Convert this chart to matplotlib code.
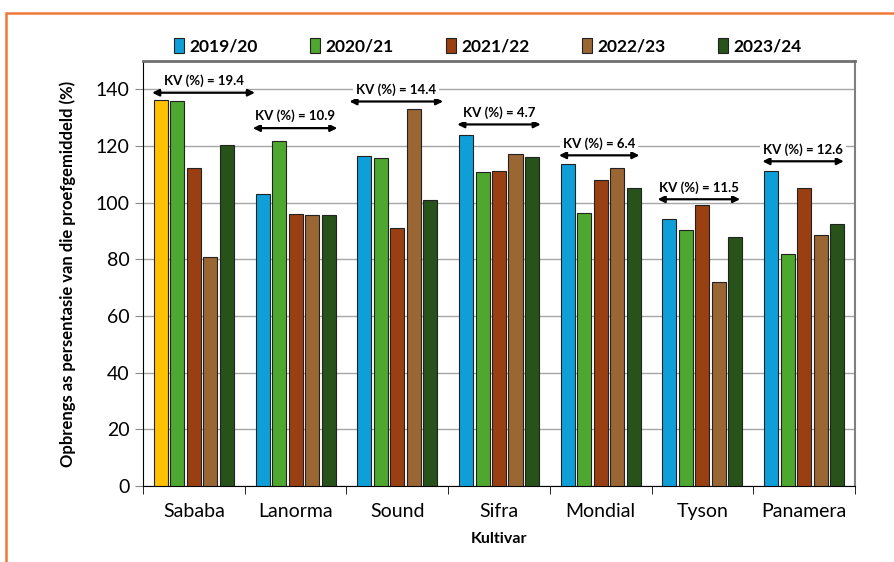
import matplotlib.pyplot as plt
from matplotlib.patches import Rectangle, Patch

plt.rcParams['font.family'] = ['Lato', 'DejaVu Sans']

cultivars = ['Sababa', 'Lanorma', 'Sound', 'Sifra', 'Mondial', 'Tyson', 'Panamera']
seasons = ['2019/20', '2020/21', '2021/22', '2022/23', '2023/24']
colors = ['#0E9FD8', '#4EA72E', '#9A3F12', '#9A6633', '#27531A']

y2019 = [136.1, 103.0, 116.4, 124.0, 113.7, 94.4, 111.3]
y2020 = [135.7, 121.6, 115.6, 110.8, 96.5, 90.5, 81.8]
y2021 = [112.1, 95.9, 91.0, 111.0, 108.0, 99.0, 105.0]
y2022 = [80.7, 95.6, 133.0, 117.0, 112.3, 72.0, 88.6]
y2023 = [120.2, 95.6, 101.0, 116.2, 105.3, 88.0, 92.3]
series = [y2019, y2020, y2021, y2022, y2023]

kv_values = [19.4, 10.9, 14.4, 4.7, 6.4, 11.5, 12.6]
kv_arrow_y = [138.8, 126.3, 135.7, 127.6, 116.7, 101.2, 114.6]
kv_left = [-0.41, -0.42, -0.47, -0.41, -0.41, -0.44, -0.41]
kv_right = [0.60, 0.41, 0.45, 0.41, 0.38, 0.37, 0.39]

fig = plt.figure(figsize=(8.95, 5.62), dpi=100)
ax = fig.add_axes([0.1598, 0.1352, 0.7955, 0.7563])

slot = 0.162
width = 0.138
for j, vals in enumerate(series):
    xs = [i + (j - 2) * slot for i in range(len(cultivars))]
    bars = ax.bar(xs, vals, width=width, color=colors[j], edgecolor='#222222',
                  linewidth=0.8, zorder=3)
    if j == 0:
        bars[0].set_facecolor('#FFC000')  # Sababa highlighted

for i, kv in enumerate(kv_values):
    y = kv_arrow_y[i]
    ax.annotate('', xy=(i + kv_left[i], y), xytext=(i + kv_right[i], y),
                arrowprops=dict(arrowstyle='<|-|>', color='black', lw=1.6,
                                mutation_scale=10, shrinkA=0, shrinkB=0),
                zorder=5, annotation_clip=False)
    ax.text(i + (kv_left[i] + kv_right[i]) / 2, y + 2.0, 'KV (%%) = %.1f' % kv,
            ha='center', va='bottom', fontsize=9.5, fontweight='bold', zorder=6,
            bbox=dict(facecolor='white', edgecolor='none', pad=2), clip_on=False)

ax.set_xlim(-0.5, 6.5)
ax.set_ylim(0, 150)
ax.set_yticks(range(0, 141, 20))
ax.set_xticks(range(len(cultivars)))
ax.set_xticklabels(cultivars)
ax.set_xticks([k - 0.5 for k in range(len(cultivars) + 1)], minor=True)
ax.tick_params(axis='x', which='major', length=0, labelsize=14, pad=12)
ax.tick_params(axis='x', which='minor', length=6, color='black')
ax.tick_params(axis='y', labelsize=14, length=6, color='#888888')
ax.grid(axis='y', color='#A6A6A6', linewidth=1, zorder=0)
ax.set_axisbelow(True)

ax.spines['left'].set_color('black')
ax.spines['bottom'].set_color('black')
ax.spines['top'].set_color('#707070')
ax.spines['top'].set_linewidth(2)
ax.spines['right'].set_color('#808080')
ax.spines['right'].set_linewidth(1.5)

ax.set_ylabel('Opbrengs as persentasie van die proefgemiddeld (%)', fontsize=12,
              fontweight='bold', labelpad=14)
ax.set_xlabel('Kultivar', fontsize=11.5, fontweight='bold', labelpad=9)

handles = [Patch(facecolor=c, edgecolor='#222222', linewidth=0.8) for c in colors]
fig.legend(handles, seasons, loc='center', bbox_to_anchor=(0.545, 0.918), ncol=5,
           frameon=False, prop={'weight': 'bold', 'size': 12.5},
           handlelength=0.6, handleheight=1.0, handletextpad=0.3,
           columnspacing=3.0)

# orange frame around the figure
fig.patches.append(Rectangle((6 / 895, -0.05), 1.1, 1 - 13 / 562 + 0.05,
                             transform=fig.transFigure, fill=False,
                             edgecolor='#F07838', linewidth=1.8))

fig.savefig('out.png', dpi=100)
